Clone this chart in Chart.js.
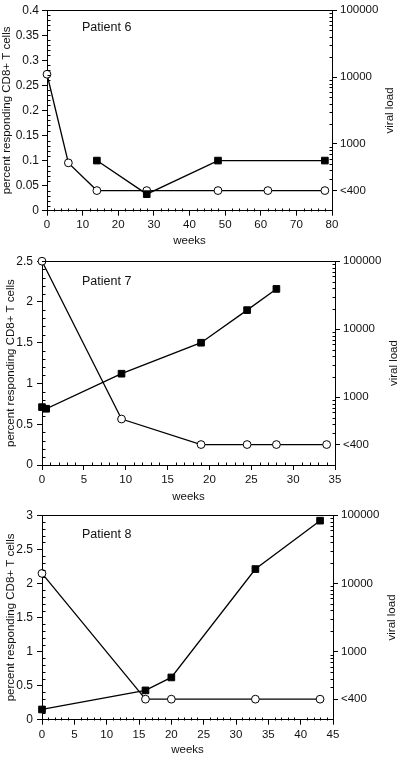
<!DOCTYPE html>
<html><head><meta charset="utf-8">
<script src="https://cdn.jsdelivr.net/npm/chart.js@4"></script>
<style>
html,body{margin:0;padding:0;background:#fff;}
body{width:400px;height:761px;position:relative;overflow:hidden;}
canvas{position:absolute;left:0;}
</style></head><body>
<canvas id="c6" width="400" height="250" style="top:0px;width:400px;height:250px"></canvas>
<canvas id="c7" width="400" height="254" style="top:250px;width:400px;height:254px"></canvas>
<canvas id="c8" width="400" height="257" style="top:504px;width:400px;height:257px"></canvas>
<script>
// ---------- data ----------
const UNDETECTABLE = '<400';
const viralLoadTicks = [200, 1000, 10000, 100000];
const viralLoadTickLabels = ['<400', '1000', '10000', '100000'];

// Patient 6
const p6CircleWeeks = [0, 6, 14, 28, 48, 62, 78];
const p6ViralLoad   = [11000, 520, '<400', '<400', '<400', '<400', '<400'];
const p6SquareWeeks = [14, 28, 48, 78];
const p6CD8         = [0.10, 0.033, 0.10, 0.10];

// Patient 7
const p7CircleWeeks = [0, 9.5, 19, 24.5, 28, 34];
const p7ViralLoad   = [100000, 475, '<400', '<400', '<400', '<400'];
const p7SquareWeeks = [0, 0.5, 9.5, 19, 24.5, 28];
const p7CD8         = [0.71, 0.69, 1.12, 1.5, 1.9, 2.16];

// Patient 8
const p8CircleWeeks = [0, 16, 20, 33, 43];
const p8ViralLoad   = [14000, '<400', '<400', '<400', '<400'];
const p8SquareWeeks = [0, 16, 20, 33, 43];
const p8CD8         = [0.15, 0.43, 0.62, 2.21, 2.92];

// ---------- drawing ----------
const FONT = "'Liberation Sans', Arial, sans-serif";
const INK = '#111';
const VL_FLOOR = viralLoadTicks[0];
const toVL = v => v === UNDETECTABLE ? VL_FLOOR : v;
const fmt = v => String(Number(Number(v).toFixed(4)));

const framePlugin = {
  id: 'frame',
  afterDraw(chart, args, o) {
    const {ctx, chartArea: a, scales} = chart;
    const x = scales.x, y = scales.y, y2 = scales.y2;
    ctx.save();
    ctx.strokeStyle = '#000';
    ctx.lineWidth = 1;
    const top = Math.round(a.top) + 0.5;
    ctx.beginPath(); ctx.moveTo(a.left, top); ctx.lineTo(a.right + 0.5, top); ctx.stroke();
    const bottom = Math.round(a.bottom) + 0.5;
    const left = Math.round(a.left) + 0.5;
    const right = Math.round(a.right) + 0.5;
    ctx.beginPath();
    const nx = Math.round(o.xMax / o.xMinor);
    for (let i = 0; i <= nx; i++) {
      const v = i * o.xMinor;
      if (Math.abs(v / o.xStep - Math.round(v / o.xStep)) < 1e-6) continue;
      const px = Math.round(x.getPixelForValue(v)) + 0.5;
      ctx.moveTo(px, bottom); ctx.lineTo(px, bottom - 3);
    }
    const ny = Math.round(o.yMax / o.yMinor);
    for (let i = 0; i <= ny; i++) {
      const v = i * o.yMinor;
      if (Math.abs(v / o.yStep - Math.round(v / o.yStep)) < 1e-6) continue;
      const py = Math.round(y.getPixelForValue(v)) + 0.5;
      ctx.moveTo(left, py); ctx.lineTo(left + 3, py);
    }
    for (let k = 2; k <= 4; k++) {
      for (let m = 2; m <= 9; m++) {
        const v = m * Math.pow(10, k);
        if (v <= VL_FLOOR || v >= 100000) continue;
        const py = Math.round(y2.getPixelForValue(v)) + 0.5;
        ctx.moveTo(right - 3, py); ctx.lineTo(right, py);
      }
    }
    ctx.stroke();
    ctx.fillStyle = INK;
    ctx.font = '12.5px ' + FONT;
    ctx.textBaseline = 'middle';
    ctx.textAlign = 'left';
    ctx.fillText(o.name, o.nameX, o.nameY);
    ctx.font = '11.5px ' + FONT;
    ctx.translate(o.vlTitleX, (a.top + a.bottom) / 2);
    ctx.rotate(-Math.PI / 2);
    ctx.textAlign = 'center';
    ctx.fillText('viral load', 0, 0);
    ctx.restore();
  }
};

function makeChart(id, d, L) {
  const tickGrid = {display: true, drawOnChartArea: false, drawTicks: true, tickLength: 5, color: '#000', lineWidth: 1};
  const border = {display: true, color: '#000', width: 1};
  const lh = 11.5 * 1.2;
  return new Chart(document.getElementById(id), {
    type: 'line',
    data: {
      datasets: [
        {
          label: 'percent responding CD8+ T cells',
          data: d.sqWeeks.map((w, i) => ({x: w, y: d.cd8[i]})),
          yAxisID: 'y', borderColor: '#000', borderWidth: 1.3,
          pointStyle: 'rect', pointRadius: 4.7, pointBackgroundColor: '#000',
          pointBorderColor: '#000', pointBorderWidth: 1, fill: false, tension: 0, clip: false
        },
        {
          label: 'viral load',
          data: d.circWeeks.map((w, i) => ({x: w, y: toVL(d.vl[i])})),
          yAxisID: 'y2', borderColor: '#000', borderWidth: 1.3,
          pointStyle: 'circle', pointRadius: 3.9, pointBackgroundColor: '#fff',
          pointBorderColor: '#000', pointBorderWidth: 1, fill: false, tension: 0, clip: false
        }
      ]
    },
    options: {
      responsive: false, animation: false, devicePixelRatio: 1,
      layout: {padding: {top: L.top, left: 0, right: 0, bottom: 0}},
      plugins: {
        legend: {display: false}, tooltip: {enabled: false},
        frame: {name: d.name, nameX: 82, nameY: L.nameY, vlTitleX: L.vlTitleX,
                xMax: d.xMax, xStep: d.xStep, xMinor: d.xMinor,
                yMax: d.yMax, yStep: d.yStep, yMinor: d.yMinor}
      },
      scales: {
        x: {
          type: 'linear', position: 'bottom', min: 0, max: d.xMax,
          ticks: {stepSize: d.xStep, font: {family: FONT, size: 11.5}, color: INK, padding: L.xTickPad, maxRotation: 0, autoSkip: false, callback: fmt},
          grid: tickGrid, border: border,
          title: {display: true, text: 'weeks', font: {family: FONT, size: 11.5}, color: INK,
                  padding: {top: 0, bottom: L.h - L.weeksY - lh / 2}},
          afterFit: s => { s.height = L.h - L.bottom; }
        },
        y: {
          type: 'linear', position: 'left', min: 0, max: d.yMax,
          ticks: {stepSize: d.yStep, font: {family: FONT, size: 12}, color: INK, padding: L.yTickPad, callback: fmt},
          grid: tickGrid, border: border,
          title: {display: true, text: 'percent responding CD8+ T cells', font: {family: FONT, size: 11.5}, color: INK,
                  padding: {top: L.yTitleX - lh / 2, bottom: 0}},
          afterFit: s => { s.width = L.left; }
        },
        y2: {
          type: 'logarithmic', position: 'right', min: 100, max: 100000,
          afterBuildTicks: s => { s.ticks = viralLoadTicks.map(v => ({value: v})); },
          ticks: {font: {family: FONT, size: 11.5}, color: INK, padding: 3, autoSkip: false,
                  callback: v => { const i = viralLoadTicks.indexOf(v); return i >= 0 ? viralLoadTickLabels[i] : ''; }},
          grid: tickGrid, border: border,
          afterFit: s => { s.width = 400 - L.right; }
        }
      }
    },
    plugins: [framePlugin]
  });
}

makeChart('c6',
  {name: 'Patient 6', circWeeks: p6CircleWeeks, vl: p6ViralLoad, sqWeeks: p6SquareWeeks, cd8: p6CD8,
   xMax: 80, xStep: 10, xMinor: 2, yMax: 0.4, yStep: 0.05, yMinor: 0.01},
  {h: 250, top: 8, bottom: 210.7, left: 47, right: 332, xTickPad: 2, yTickPad: 3,
   weeksY: 241, yTitleX: 7, vlTitleX: 390, nameY: 28});

makeChart('c7',
  {name: 'Patient 7', circWeeks: p7CircleWeeks, vl: p7ViralLoad, sqWeeks: p7SquareWeeks, cd8: p7CD8,
   xMax: 35, xStep: 5, xMinor: 1, yMax: 2.5, yStep: 0.5, yMinor: 0.1},
  {h: 254, top: 10, bottom: 215, left: 42, right: 335, xTickPad: 3, yTickPad: 4,
   weeksY: 246.7, yTitleX: 11, vlTitleX: 394, nameY: 32});

makeChart('c8',
  {name: 'Patient 8', circWeeks: p8CircleWeeks, vl: p8ViralLoad, sqWeeks: p8SquareWeeks, cd8: p8CD8,
   xMax: 45, xStep: 5, xMinor: 1, yMax: 3, yStep: 0.5, yMinor: 0.1},
  {h: 257, top: 10.7, bottom: 215.7, left: 42, right: 333, xTickPad: 3, yTickPad: 4,
   weeksY: 246, yTitleX: 11, vlTitleX: 391.5, nameY: 31});
</script>
</body></html>
